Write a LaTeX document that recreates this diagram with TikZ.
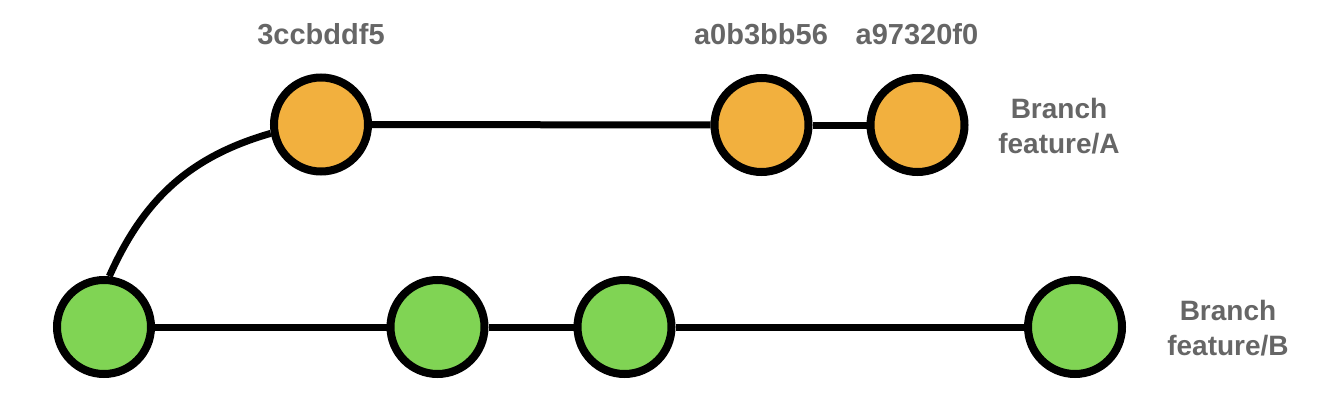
\documentclass[tikz,border=0pt]{standalone}
\usepackage{fontspec}
\setmainfont{Liberation Sans}
\definecolor{orangeC}{RGB}{242,176,62}
\definecolor{greenC}{RGB}{128,212,84}
\definecolor{labelC}{RGB}{102,102,102}
\begin{document}
\begin{tikzpicture}[x=1pt,y=-1pt,
  commit/.style={circle,draw=black,line width=8pt,minimum size=94pt,inner sep=0pt},
  ocommit/.style={commit,fill=orangeC},
  gcommit/.style={commit,fill=greenC},
  link/.style={line width=7pt,draw=black},
  hashlabel/.style={anchor=base,text=labelC,font=\bfseries\fontsize{29}{35}\selectfont,inner sep=0pt},
  branchlabel/.style={anchor=center,align=center,text=labelC,font=\bfseries\fontsize{28}{35}\selectfont,inner sep=0pt}]
\useasboundingbox (0,0) rectangle (1332,412);
\node[gcommit] (g1) at (104,327) {};
\node[gcommit] (g2) at (437.5,327) {};
\node[gcommit] (g3) at (624.5,327) {};
\node[gcommit] (g4) at (1075,327) {};
\node[ocommit] (o1) at (321,124.5) {};
\node[ocommit] (o2) at (761.5,125) {};
\node[ocommit] (o3) at (917.5,125) {};
\draw[link] (g1) -- (g2);
\draw[link] (g2) -- (g3);
\draw[link] (g3) -- (g4);
\draw[link] (o1) -- (o2);
\draw[link] (o2) -- (o3);
\draw[link] (g1.84) to[out=66,in=196] (o1.190);
\node[hashlabel] (h1) at (321,45) {3ccbddf5};
\node[hashlabel] (h2) at (761,45) {a0b3bb56};
\node[hashlabel] (h3) at (917,45) {a97320f0};
\node[branchlabel] (ba) at (1059,126) {Branch\\feature/A};
\node[branchlabel] (bb) at (1228,328) {Branch\\feature/B};
\end{tikzpicture}
\end{document}
